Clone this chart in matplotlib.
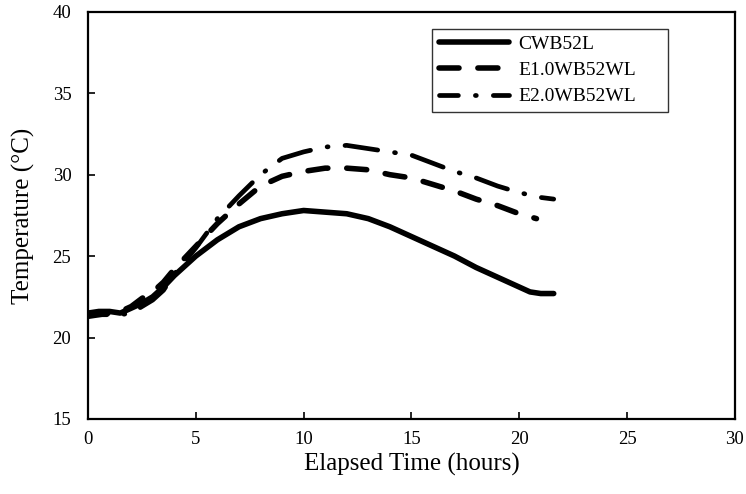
import matplotlib
matplotlib.use('Agg')
import matplotlib.pyplot as plt

# elapsed time (hours) and temperatures (deg C)
time_cw = [0, 0.5, 1, 1.5, 2, 2.5, 3, 3.5, 4, 4.5, 5, 6, 7, 8, 9, 10, 11, 12, 13, 14,
           15, 16, 17, 18, 19, 20, 20.5, 21, 21.6]
temp_cw = [21.5, 21.6, 21.6, 21.5, 21.8, 22.1, 22.5, 23.1, 23.8, 24.4, 25.0, 26.0, 26.8, 27.3,
           27.6, 27.8, 27.7, 27.6, 27.3, 26.8, 26.2, 25.6, 25.0, 24.3, 23.7, 23.1, 22.8, 22.7, 22.7]

time_e1 = [0, 0.5, 1, 1.5, 2, 2.5, 3, 3.5, 4, 4.5, 5, 6, 7, 8, 9, 10, 11, 12, 13, 14,
           15, 16, 17, 18, 19, 20, 20.8]
temp_e1 = [21.3, 21.4, 21.5, 21.6, 21.9, 22.4, 22.8, 23.4, 24.2, 24.9, 25.6, 27.0, 28.2, 29.3,
           29.9, 30.2, 30.4, 30.4, 30.3, 30.0, 29.8, 29.4, 29.0, 28.5, 28.1, 27.6, 27.3]

time_e2 = [0, 0.5, 1, 1.5, 2, 2.5, 3, 3.5, 4, 4.5, 5, 6, 7, 8, 9, 10, 11, 12, 13, 14,
           15, 16, 17, 18, 19, 20, 21, 21.6]
temp_e2 = [21.4, 21.4, 21.4, 21.4, 21.5, 21.9, 22.3, 22.9, 23.9, 24.7, 25.5, 27.3, 28.7, 30.0,
           31.0, 31.4, 31.7, 31.8, 31.6, 31.4, 31.2, 30.7, 30.2, 29.8, 29.3, 28.9, 28.6, 28.5]

labels = ['CWB52L', 'E1.0WB52WL', 'E2.0WB52WL']

plt.rcParams['font.family'] = ['Liberation Serif', 'DejaVu Serif']

fig = plt.figure(figsize=(7.46, 4.94), dpi=100)
ax = fig.add_axes([0.118, 0.152, 0.867, 0.824])

ax.plot(time_cw, temp_cw, color='black', lw=4, solid_capstyle='round', label=labels[0])
ax.plot(time_e1, temp_e1, color='black', lw=4, dashes=(3.6, 3.4), dash_capstyle='round',
        label=labels[1])
ax.plot(time_e2, temp_e2, color='black', lw=3.4, linestyle=(3.0, (7, 3.6, 0.2, 3.6)),
        dash_capstyle='round', label=labels[2])

ax.set_xlim(0, 30)
ax.set_ylim(15, 40)
ax.set_xticks(range(0, 31, 5))
ax.set_yticks(range(15, 41, 5))
ax.tick_params(direction='in', length=5, width=1.2, labelsize=13.5)
ax.tick_params(axis='x', pad=9)
ax.tick_params(axis='y', pad=12)
for s in ax.spines.values():
    s.set_linewidth(1.6)

ax.set_xlabel('Elapsed Time (hours)', fontsize=18, labelpad=3)
ax.set_ylabel('Temperature (°C)', fontsize=18, labelpad=13)

# legend box: roughly x 432-668 px, y 29-117 px in the reference
leg = ax.legend(loc='upper left', bbox_to_anchor=(0.532, 0.958, 0.365, 0), mode='expand',
                fontsize=14, frameon=True, fancybox=False, handlelength=3.6,
                borderpad=0.33, labelspacing=0.44, handletextpad=0.5, borderaxespad=0)
leg.get_frame().set_edgecolor('black')
leg.get_frame().set_linewidth(1.0)

fig.savefig('out.png', dpi=100)
